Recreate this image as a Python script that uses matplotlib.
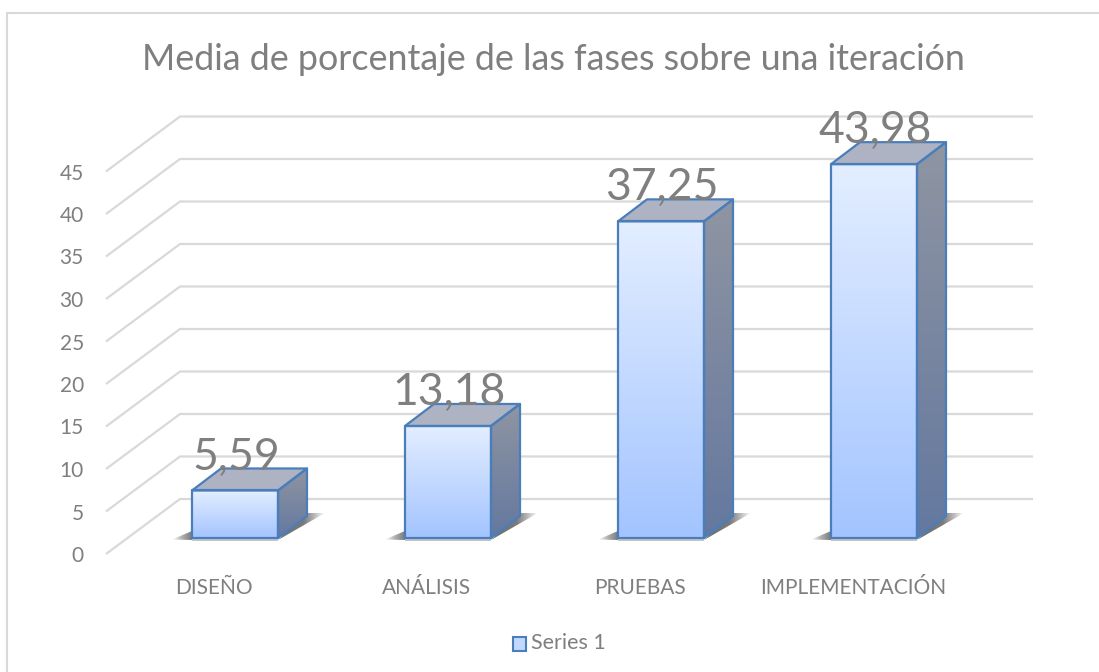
import numpy as np
import matplotlib
matplotlib.use('Agg')
from matplotlib import pyplot as plt
from matplotlib.colors import LinearSegmentedColormap
from matplotlib.patches import Polygon, Rectangle

categories = ['DISEÑO', 'ANÁLISIS', 'PRUEBAS', 'IMPLEMENTACIÓN']
values = [5.59, 13.18, 37.25, 43.98]
value_labels = ['5,59', '13,18', '37,25', '43,98']
y_ticks = [0, 5, 10, 15, 20, 25, 30, 35, 40, 45]

plt.rcParams['font.family'] = ['Lato', 'DejaVu Sans']

W, H = 1099, 672
# axes box in pixels, value 0 sits at y=554 on the front edge of the floor
L, R, T, B = 106, 1033, 117, 554
PX_X = 213.0    # px per category
PX_Y = 8.5      # px per unit
GREY = '#7f7f7f'
GRID = '#d9d9d9'
EDGE = '#4a7ebb'

fig = plt.figure(figsize=(W / 100, H / 100), dpi=100)
fig.patches.append(Rectangle((6.5 / W, -1), 2, 1 + (H - 12.5) / H, transform=fig.transFigure,
                             facecolor='none', edgecolor=GRID, linewidth=1.5))
ax = fig.add_axes([L / W, (H - B) / H, (R - L) / W, (B - T) / H])
ax.set_xlim((L - 214) / PX_X, (R - 214) / PX_X)
ax.set_ylim(0, (B - T) / PX_Y)
ax.patch.set_visible(False)
for s in ax.spines.values():
    s.set_visible(False)


def dx(px):
    return px / PX_X


def dy(px):
    return px / PX_Y


def gradient(poly, colors, horizontal=False, z=3):
    # fill a polygon with a linear gradient, clipped to its outline
    cm = LinearSegmentedColormap.from_list('g', colors)
    g = np.linspace(0, 1, 128).reshape(-1, 1)
    if horizontal:
        g = g.T
    xs, ys = zip(*poly)
    im = ax.imshow(g, cmap=cm, extent=(min(xs), max(xs), min(ys), max(ys)), origin='lower',
                   aspect='auto', zorder=z, interpolation='bilinear')
    im.set_clip_path(Polygon(poly, transform=ax.transData))


# back wall grid, oblique part then the flat part
wall_x, wall_y = dx(74), dy(55)
x0, x1 = ax.get_xlim()
y_top = ax.get_ylim()[1]
for t in y_ticks:
    ax.plot([x0, x0 + wall_x, x1], [t, t + wall_y, t + wall_y], color=GRID, lw=1.6, zorder=1,
            clip_on=False, solid_capstyle='butt')

# bars
off_x, off_y = dx(22), dy(16)
bar_w = dx(86)
dep_x, dep_y = dx(29), dy(22)
for i, v in enumerate(values):
    xl = i - off_x
    xr = xl + bar_w
    base = off_y
    top = base + v

    # floor shadow
    gradient([(xl - dx(20), base - dy(1.5)), (xl, base + dy(7)), (xl, base - dy(2))],
             ['#ffffff', '#b0b0b0', '#7a7a7a'], horizontal=True, z=2)
    ax.fill([xl, xr, xr, xl], [base - dy(2.5), base - dy(2.5), base, base], color='#c4c4c4', lw=0, zorder=2)
    gradient([(xr, base - dy(2)), (xr + dep_x, base + dep_y + dy(3)), (xr + dep_x + dx(18), base + dep_y + dy(3))],
             [(0, '#6e6e6e'), (0.55, '#7a7a7a'), (0.75, '#b0b0b0'), (1, '#ffffff')], horizontal=True, z=2)

    front = [(xl, base), (xr, base), (xr, top), (xl, top)]
    side = [(xr, base), (xr + dep_x, base + dep_y), (xr + dep_x, top + dep_y), (xr, top)]
    lid = [(xl, top), (xr, top), (xr + dep_x, top + dep_y), (xl + dep_x, top + dep_y)]

    gradient(front, ['#a3c4ff', '#e3eeff'], z=3)
    gradient(side, ['#64789f', '#8f95a2'], z=3)
    ax.add_patch(Polygon(lid, facecolor='#adb3c2', edgecolor='none', zorder=3))
    for p in (front, side, lid):
        ax.add_patch(Polygon(p, fill=False, edgecolor=EDGE, lw=1.6, joinstyle='round', zorder=4))

    ax.text(xl + bar_w / 2 + dx(1), top + dep_y - dy(1), value_labels[i], color=GREY, fontsize=32,
            ha='center', va='baseline', zorder=5)

ax.set_xlim(x0, x1)
ax.set_ylim(0, y_top)
ax.set_xticks(range(len(categories)))
ax.set_xticklabels(categories)
ax.set_yticks(y_ticks)
ax.tick_params(axis='both', length=0, labelcolor=GREY, labelsize=15)
ax.tick_params(axis='x', pad=17)
ax.tick_params(axis='y', pad=16)

fig.text(553.5 / W, 1 - 60 / H, 'Media de porcentaje de las fases sobre una iteración', color=GREY,
         fontsize=25.85, ha='center', va='center')

# legend
fig.patches.append(Rectangle((512.5 / W, 1 - 650.5 / H), 13 / W, 14 / H, transform=fig.transFigure,
                             facecolor='#c2d8ff', edgecolor=EDGE, linewidth=1.5))
fig.text(531 / W, 1 - 643 / H, 'Series 1', color=GREY, fontsize=15.5, ha='left', va='center')

plt.savefig('out.png', dpi=100)
